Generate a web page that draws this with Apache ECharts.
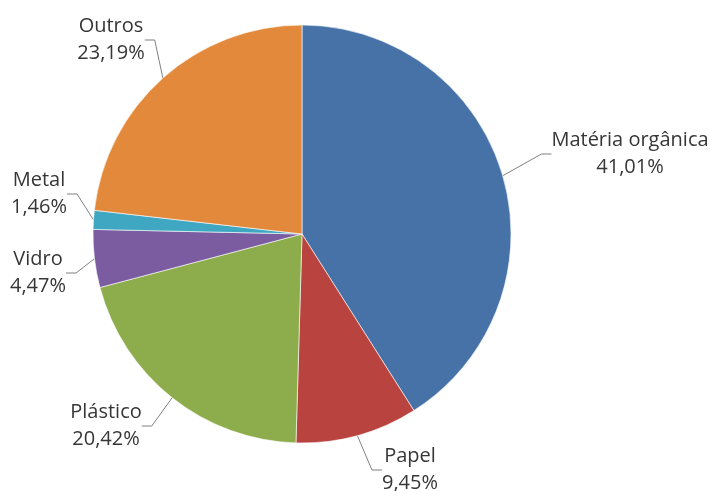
<!DOCTYPE html>
<html><head><meta charset="utf-8">
<script src="https://cdn.jsdelivr.net/npm/echarts@6/dist/echarts.min.js"></script>
<style>html,body{margin:0;padding:0;background:#fff}#c{width:710px;height:491px}</style>
</head><body><div id="c"></div>
<script>
const categories = ['Matéria orgânica', 'Papel', 'Plástico', 'Vidro', 'Metal', 'Outros'];
const values = [41.01, 9.45, 20.42, 4.47, 1.46, 23.19];
const colors = ['#4672A8', '#B9443F', '#8DAD4C', '#7B5CA0', '#3FA7C2', '#E3893B'];
const labelPos = [[630, 154], [410, 470], [106, 426], [38, 273], [39, 194], [111, 40]];

const chart = echarts.init(document.getElementById('c'), null, {renderer: 'canvas'});
chart.setOption({
  animation: false,
  series: [{
    type: 'pie',
    center: [302, 234],
    radius: 209,
    startAngle: 90,
    clockwise: true,
    data: categories.map((c, i) => ({name: c, value: values[i], itemStyle: {color: colors[i]}})),
    itemStyle: {borderColor: '#ffffff', borderWidth: 0.6},
    label: {
      show: true,
      position: 'outside',
      formatter: p => p.name + '\n' + p.value.toFixed(2).replace('.', ',') + '%',
      fontFamily: 'Open Sans',
      fontSize: 20,
      fontWeight: 500,
      color: '#363636',
      lineHeight: 27,
      align: 'center'
    },
    labelLine: {show: true, length: 10, length2: 10, lineStyle: {color: '#808080', width: 1}},
    labelLayout: p => ({x: labelPos[p.dataIndex][0], y: labelPos[p.dataIndex][1], align: 'center', verticalAlign: 'middle'})
  }]
});
</script></body></html>
